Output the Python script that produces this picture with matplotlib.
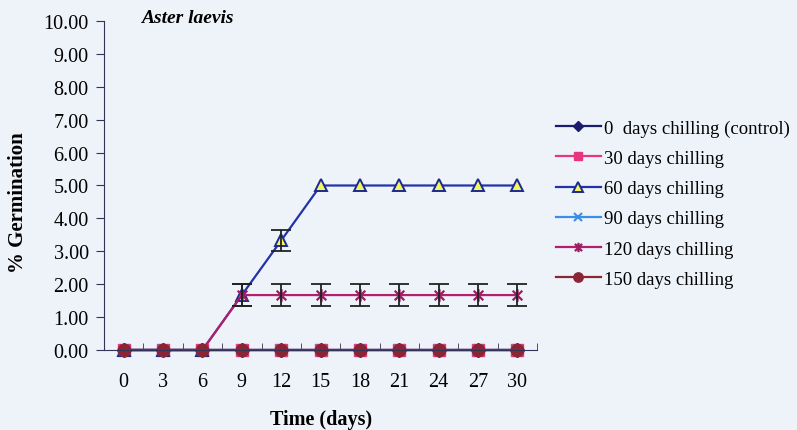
import numpy as np
import matplotlib.pyplot as plt
from matplotlib.path import Path

days = ["0", "3", "6", "9", "12", "15", "18", "21", "24", "27", "30"]

labels = ["0  days chilling (control)", "30 days chilling", "60 days chilling",
          "90 days chilling", "120 days chilling", "150 days chilling"]

germ_0 = [0, 0, 0, 0, 0, 0, 0, 0, 0, 0, 0]
germ_30 = [0, 0, 0, 0, 0, 0, 0, 0, 0, 0, 0]
germ_60 = [0, 0, 0, 1.67, 3.33, 5.0, 5.0, 5.0, 5.0, 5.0, 5.0]
germ_90 = [0, 0, 0, 0, 0, 0, 0, 0, 0, 0, 0]
germ_120 = [0, 0, 0, 1.67, 1.67, 1.67, 1.67, 1.67, 1.67, 1.67, 1.67]
germ_150 = [0, 0, 0, 0, 0, 0, 0, 0, 0, 0, 0]

err_60 = [0, 0, 0, 0.33, 0.33, 0, 0, 0, 0, 0, 0]
err_120 = [0, 0, 0, 0.33, 0.33, 0.33, 0.33, 0.33, 0.33, 0.33, 0.33]

# asterisk marker: x plus a vertical bar
star = Path([(-1, -1), (1, 1), (-1, 1), (1, -1), (0, -1.3), (0, 1.3)],
            [Path.MOVETO, Path.LINETO, Path.MOVETO, Path.LINETO, Path.MOVETO, Path.LINETO])

plt.rcParams['font.family'] = ['Liberation Serif', 'DejaVu Serif']
fs = 14.5

fig = plt.figure(figsize=(7.97, 4.31), dpi=100, facecolor='#eef3fa')
ax = fig.add_axes([0.1305, 0.1856, 0.5435, 0.7634])
ax.set_facecolor('none')

x = np.arange(len(days))

styles = [
    (germ_0, dict(color='#1a1a6e', marker='D', ms=7, mfc='#1a1a6e', mec='#1a1a6e')),
    (germ_30, dict(color='#e8357f', marker='s', ms=8, mfc='#e8357f', mec='#e8357f')),
    (germ_60, dict(color='#2233a8', marker='^', ms=9, mfc='#f5f560', mec='#1a2a90', mew=1.4)),
    (germ_90, dict(color='#3b8ee8', marker='x', ms=7, mec='#3b8ee8', mew=1.5)),
    (germ_120, dict(color='#b0206e', marker=star, ms=9, mec='#9a1f60', mew=1.6)),
    (germ_150, dict(color='#8a2535', marker='o', ms=9, mfc='#8a2535', mec='#8a2535')),
]

handles = []
for (vals, st), lab in zip(styles, labels):
    h, = ax.plot(x, vals, lw=1.6, label=lab, clip_on=False, **st)
    handles.append(h)

ax.errorbar(x[3:5], germ_60[3:5], yerr=err_60[3:5], fmt='none', ecolor='#222222',
            elinewidth=1.3, capsize=7, capthick=1.3, zorder=3)
ax.errorbar(x[3:], germ_120[3:], yerr=err_120[3:], fmt='none', ecolor='#222222',
            elinewidth=1.3, capsize=7, capthick=1.3, zorder=3)

ax.set_xlim(-0.5, len(days) - 0.5)
ax.set_ylim(0, 10)
ax.set_yticks(np.arange(0, 11, 1))
ax.set_yticklabels(["%.2f" % v for v in np.arange(0, 11, 1)], fontsize=fs)
ax.set_xticks(x)
ax.set_xticklabels(days, fontsize=fs)
ax.set_xticks(np.arange(-0.5, len(days), 1), minor=True)
ax.tick_params(axis='x', which='major', length=0, pad=16)
ax.tick_params(axis='x', which='minor', length=5, direction='in', color='#333355')
ax.tick_params(axis='y', length=6, direction='out', color='#333355', pad=5)

for s in ['top', 'right']:
    ax.spines[s].set_visible(False)
ax.spines['left'].set_color('#333355')
ax.spines['bottom'].set_color('#333355')

ax.set_ylabel('% Germination', fontsize=15, fontweight='bold')
ax.yaxis.set_label_coords(-0.175, 0.45)
ax.set_xlabel('Time (days)', fontsize=14.5, fontweight='bold', labelpad=13)
ax.text(0.085, 1.01, 'Aster laevis', transform=ax.transAxes, fontsize=14,
        fontweight='bold', fontstyle='italic', va='center')

fig.legend(handles=handles, loc='upper left', bbox_to_anchor=(0.676, 0.76),
           frameon=False, fontsize=13.5, handlelength=2.4, handletextpad=0.2,
           labelspacing=0.7, markerscale=0.75)

fig.savefig('out.png', dpi=100, facecolor=fig.get_facecolor())
